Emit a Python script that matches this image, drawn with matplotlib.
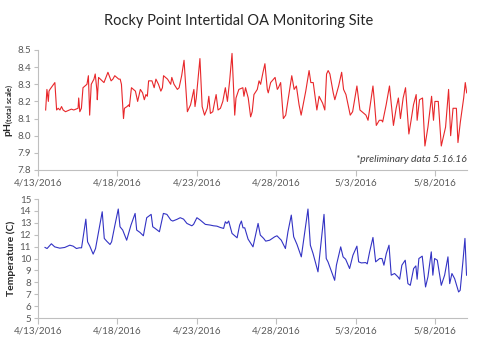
import matplotlib
matplotlib.use('Agg')
import matplotlib.pyplot as plt
import matplotlib.dates as mdates
import numpy as np
import pandas as pd

plt.rcParams['font.family'] = ['Lato', 'DejaVu Sans']
plt.rcParams['mathtext.fontset'] = 'custom'
plt.rcParams['mathtext.rm'] = 'Lato'

START = pd.Timestamp('2016-04-13')
END = pd.Timestamp('2016-05-10')

# days since 4/13/2016 00:00 and pH (total scale)
ph_days = [0.48, 0.56, 0.65, 0.69, 0.75, 1.06, 1.13, 1.17, 1.27, 1.38,
           1.48, 1.58, 1.73, 2.10, 2.25, 2.52, 2.56, 2.63, 2.73, 2.83,
           3.08, 3.17, 3.25, 3.35, 3.52, 3.60, 3.71, 3.73, 3.81, 4.04,
           4.15, 4.40, 4.60, 4.71, 4.83, 5.08, 5.17, 5.25, 5.38, 5.44,
           5.60, 5.71, 5.75, 5.88, 6.13, 6.27, 6.44, 6.58, 6.69, 6.79,
           6.88, 6.96, 7.17, 7.31, 7.42, 7.58, 7.73, 7.83, 7.90, 8.15,
           8.35, 8.42, 8.56, 8.77, 8.88, 9.04, 9.19, 9.40, 9.60, 9.81,
           9.88, 9.96, 10.19, 10.33, 10.42, 10.48, 10.65, 10.75, 10.85, 11.00,
           11.10, 11.21, 11.33, 11.48, 11.63, 11.79, 11.92, 12.06, 12.21, 12.38,
           12.46, 12.64, 12.89, 12.96, 13.06, 13.23, 13.38, 13.48, 13.59, 13.80,
           13.91, 14.01, 14.16, 14.28, 14.43, 14.49, 14.64, 14.92, 15.06, 15.13,
           15.27, 15.44, 15.59, 15.97, 16.12, 16.26, 16.43, 16.56, 16.85, 17.06,
           17.17, 17.32, 17.55, 17.69, 17.91, 18.05, 18.16, 18.26, 18.37, 18.58,
           18.68, 18.92, 19.11, 19.23, 19.38, 19.65, 19.80, 20.07, 20.26, 20.39,
           20.64, 20.77, 21.08, 21.17, 21.29, 21.48, 21.63, 21.69, 21.91, 22.12,
           22.26, 22.37, 22.54, 22.68, 22.81, 22.98, 23.13, 23.34, 23.48, 23.63,
           23.80, 23.86, 24.01, 24.20, 24.35, 24.54, 24.77, 24.89, 24.98, 25.19,
           25.38, 25.65, 25.84, 25.97, 26.12, 26.33, 26.43, 26.58, 26.79, 26.89,
           26.98]
ph_vals = [8.15, 8.27, 8.20, 8.26, 8.27, 8.31, 8.21, 8.15, 8.16, 8.15,
           8.17, 8.15, 8.14, 8.155, 8.15, 8.16, 8.22, 8.14, 8.16, 8.28,
           8.30, 8.35, 8.12, 8.30, 8.33, 8.36, 8.26, 8.21, 8.34, 8.32,
           8.31, 8.37, 8.32, 8.33, 8.35, 8.33, 8.33, 8.30, 8.10, 8.16,
           8.17, 8.18, 8.17, 8.28, 8.26, 8.20, 8.27, 8.25, 8.21, 8.24,
           8.23, 8.32, 8.32, 8.28, 8.33, 8.30, 8.26, 8.28, 8.35, 8.33,
           8.30, 8.34, 8.30, 8.27, 8.28, 8.35, 8.44, 8.14, 8.18, 8.27,
           8.17, 8.22, 8.45, 8.17, 8.14, 8.12, 8.16, 8.23, 8.13, 8.14,
           8.19, 8.24, 8.15, 8.16, 8.20, 8.28, 8.20, 8.32, 8.48, 8.12,
           8.22, 8.27, 8.28, 8.23, 8.28, 8.22, 8.11, 8.14, 8.24, 8.27,
           8.32, 8.30, 8.37, 8.42, 8.27, 8.25, 8.31, 8.34, 8.27, 8.28,
           8.31, 8.10, 8.12, 8.35, 8.27, 8.29, 8.18, 8.12, 8.26, 8.38,
           8.31, 8.31, 8.15, 8.23, 8.19, 8.15, 8.36, 8.38, 8.36, 8.25,
           8.21, 8.29, 8.37, 8.27, 8.24, 8.12, 8.14, 8.29, 8.15, 8.14,
           8.12, 8.09, 8.29, 8.20, 8.06, 8.09, 8.09, 8.08, 8.18, 8.29,
           8.16, 8.06, 8.16, 8.22, 8.10, 8.22, 8.28, 8.01, 8.09, 8.18,
           8.24, 8.09, 8.21, 8.22, 7.94, 8.05, 8.23, 8.09, 8.20, 8.20,
           7.94, 8.05, 8.27, 8.00, 8.16, 8.16, 7.96, 8.08, 8.22, 8.31,
           8.25]

# days since 4/13/2016 00:00 and temperature (C)
temp_days = [0.44, 0.57, 0.84, 1.05, 1.37, 1.68, 2.00, 2.21, 2.42, 2.59,
             2.74, 3.01, 3.12, 3.26, 3.47, 3.62, 3.81, 4.04, 4.17, 4.32,
             4.53, 4.63, 4.84, 5.05, 5.16, 5.33, 5.58, 5.85, 6.11, 6.21,
             6.42, 6.63, 6.84, 7.12, 7.22, 7.37, 7.64, 7.89, 8.11, 8.36,
             8.48, 8.74, 8.95, 9.16, 9.37, 9.68, 9.79, 10.00, 10.21, 10.53,
             10.84, 11.05, 11.26, 11.47, 11.68, 11.79, 11.89, 12.00, 12.21, 12.53,
             12.69, 12.80, 12.90, 13.01, 13.22, 13.53, 13.85, 13.99, 14.20, 14.33,
             14.58, 14.90, 15.04, 15.31, 15.57, 15.73, 15.94, 16.09, 16.30, 16.57,
             16.99, 17.14, 17.31, 17.62, 18.00, 18.14, 18.25, 18.67, 18.78, 19.05,
             19.20, 19.36, 19.61, 19.82, 20.07, 20.18, 20.35, 20.62, 20.72, 20.87,
             21.08, 21.25, 21.50, 21.65, 21.77, 21.92, 22.09, 22.23, 22.44, 22.65,
             22.76, 22.90, 23.11, 23.28, 23.43, 23.64, 23.78, 23.86, 23.97, 24.12,
             24.18, 24.39, 24.54, 24.75, 24.85, 24.96, 25.13, 25.38, 25.59, 25.80,
             25.91, 26.05, 26.22, 26.47, 26.57, 26.74, 26.87, 26.97]
temp_vals = [10.93, 10.84, 11.24, 10.98, 10.87, 10.93, 11.12, 11.04, 10.84, 10.90,
             10.90, 13.31, 11.40, 11.04, 10.37, 10.84, 12.25, 13.93, 11.69, 11.46,
             11.18, 11.40, 12.81, 14.16, 12.67, 12.39, 11.54, 12.81, 13.79, 12.39,
             12.19, 11.91, 13.43, 13.71, 12.67, 12.53, 12.25, 13.79, 13.71, 13.23,
             13.15, 13.29, 13.43, 13.31, 12.95, 12.75, 12.87, 13.43, 13.23, 12.87,
             12.81, 12.75, 12.72, 12.61, 12.53, 13.09, 12.95, 13.15, 12.11, 11.74,
             12.81, 13.15, 12.58, 12.58, 11.63, 10.98, 12.95, 11.97, 11.69, 11.46,
             11.54, 11.83, 11.91, 11.54, 10.84, 12.25, 13.65, 11.83, 11.18, 10.14,
             14.16, 11.12, 10.42, 8.88, 13.71, 10.00, 9.72, 8.17, 9.44, 10.98,
             10.14, 9.94, 9.16, 10.28, 11.04, 9.72, 9.63, 9.66, 9.55, 10.56,
             11.77, 9.72, 10.00, 10.00, 9.44, 10.42, 11.12, 8.60, 8.74, 8.46,
             8.26, 9.44, 9.86, 7.89, 7.75, 9.16, 9.38, 8.26, 10.00, 10.14,
             10.20, 7.61, 8.46, 10.56, 8.60, 10.00, 9.86, 7.75, 8.60, 10.14,
             7.89, 8.74, 8.31, 7.19, 7.33, 9.72, 11.69, 8.60]

title = 'Rocky Point Intertidal OA Monitoring Site'
note = '*preliminary data 5.16.16'

ph_t = START + pd.to_timedelta(ph_days, unit='D')
temp_t = START + pd.to_timedelta(temp_days, unit='D')

GRAY = '#595959'
SPINE = '#BFBFBF'


def date_label(x, pos):
    d = mdates.num2date(x)
    return '%d/%d/%d' % (d.month, d.day, d.year)


def style_axis(ax):
    for side in ('top', 'right'):
        ax.spines[side].set_visible(False)
    for side in ('left', 'bottom'):
        ax.spines[side].set_color(SPINE)
        ax.spines[side].set_linewidth(0.8)
    ax.set_xlim(START, END)
    ax.xaxis.set_major_locator(mdates.DayLocator(bymonthday=[3, 8, 13, 18, 23, 28]))
    ax.xaxis.set_major_formatter(plt.FuncFormatter(date_label))
    ax.tick_params(axis='x', colors=SPINE, labelcolor=GRAY, labelsize=7,
                   length=4, width=0.8, direction='out', pad=2)
    ax.tick_params(axis='y', colors=SPINE, labelcolor=GRAY, labelsize=7,
                   length=3, width=0.8, direction='out', pad=2)


fig = plt.figure(figsize=(4.9, 3.62), dpi=100)
ax1 = fig.add_axes([0.0776, 0.5304, 0.8755, 0.3315])
ax2 = fig.add_axes([0.0776, 0.1215, 0.8755, 0.3287])

ax1.plot(ph_t, ph_vals, color='#E8272A', linewidth=0.8)
style_axis(ax1)
ax1.set_ylim(7.8, 8.5)
ax1.set_yticks(np.arange(7.8, 8.51, 0.1))
ax1.yaxis.set_major_formatter(plt.FormatStrFormatter('%.1f'))
ax1.set_ylabel(r'pH$_{\mathregular{(total\ scale)}}$', fontsize=7.5,
               fontweight='bold', color='#262626', va='center')
ax1.yaxis.set_label_coords(-0.068, 0.5)
ax1.text(1.0, 0.09, note, transform=ax1.transAxes, ha='right', va='center',
         fontsize=7.5, style='italic', color='#404040')

ax2.plot(temp_t, temp_vals, color='#3333C4', linewidth=0.8)
style_axis(ax2)
ax2.set_ylim(5, 15)
ax2.set_yticks(np.arange(5, 16, 1))
ax2.set_ylabel('Temperature (C)', fontsize=7.5, fontweight='bold',
               color='#262626', va='center')
ax2.yaxis.set_label_coords(-0.062, 0.5)

fig.text(0.488, 0.942, title, ha='center', va='center', fontsize=10.5,
         color='#262626')

fig.savefig('out.png', dpi=100)
